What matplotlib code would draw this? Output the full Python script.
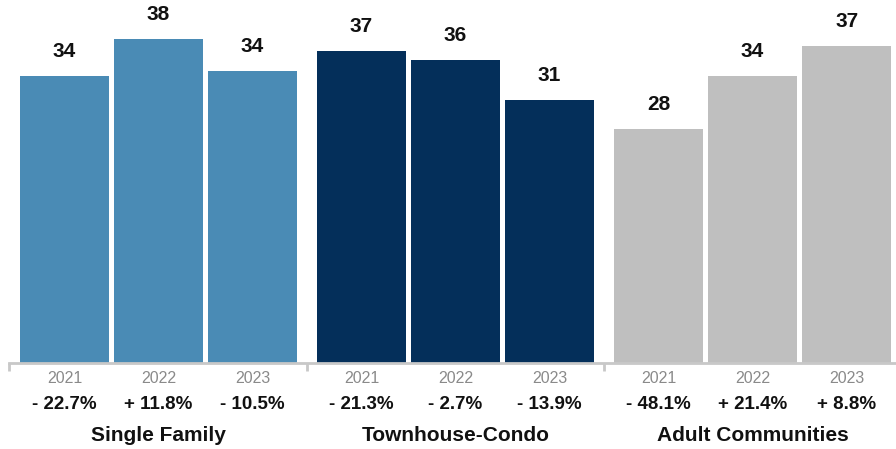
import matplotlib
matplotlib.use("Agg")
import matplotlib.pyplot as plt

groups = ["Single Family", "Townhouse-Condo", "Adult Communities"]
years = ["2021", "2022", "2023"]
values = [
    [33.9, 38.2, 34.4],
    [36.8, 35.7, 31.0],
    [27.6, 33.9, 37.4],
]
changes = [
    ["- 22.7%", "+ 11.8%", "- 10.5%"],
    ["- 21.3%", "- 2.7%", "- 13.9%"],
    ["- 48.1%", "+ 21.4%", "+ 8.8%"],
]
colors = ["#4a8bb5", "#042f5a", "#bfbfbf"]

plt.rcParams['font.family'] = ['Liberation Sans', 'DejaVu Sans']

W, H = 896, 449
fig = plt.figure(figsize=(W / 100, H / 100), dpi=100)
base_px = 363.0
ax = fig.add_axes([0, (H - base_px) / H, 1, base_px / H])

unit = 94.0
scale = 8.48
x0 = 64.5
ax.set_xlim(-x0 / unit, (W - x0) / unit)
ax.set_ylim(0, base_px / scale)
group_off = 3.16
bw = 89 / unit

for g, grp in enumerate(groups):
    xs = [g * group_off + i for i in range(len(years))]
    ax.bar(xs, values[g], width=bw, color=colors[g], zorder=2)
    for x, v in zip(xs, values[g]):
        ax.annotate(f"{v:.0f}", (x, v), xytext=(0, 17.5), textcoords="offset points",
                    ha="center", va="center", fontsize=15, fontweight="bold", color="#111111",
                    annotation_clip=False)
    for x, yr, ch in zip(xs, years, changes[g]):
        ax.annotate(yr, (x, 0), xytext=(0, -11), textcoords="offset points",
                    ha="center", va="center", fontsize=11.5, color="#8a8a8a", annotation_clip=False)
        ax.annotate(ch, (x, 0), xytext=(0, -30), textcoords="offset points",
                    ha="center", va="center", fontsize=13.5, fontweight="bold", color="#111111",
                    annotation_clip=False)
    ax.annotate(grp, (xs[1], 0), xytext=(0, -52), textcoords="offset points",
                ha="center", va="center", fontsize=15, fontweight="bold", color="#111111",
                annotation_clip=False)

for s in ["top", "right", "left"]:
    ax.spines[s].set_visible(False)
ax.spines["bottom"].set_color("#c8c8c8")
ax.spines["bottom"].set_linewidth(2)
left_b = (9 - x0) / unit
ax.spines["bottom"].set_bounds(left_b, (W + 5 - x0) / unit)
seps = [left_b, (306.5 - x0) / unit, (604 - x0) / unit]
ax.set_xticks(seps)
ax.set_xticklabels([])
ax.tick_params(axis="x", length=6, width=2, color="#c8c8c8", direction="out")
ax.set_yticks([])
ax.patch.set_alpha(0)

fig.savefig("out.png", dpi=100)
